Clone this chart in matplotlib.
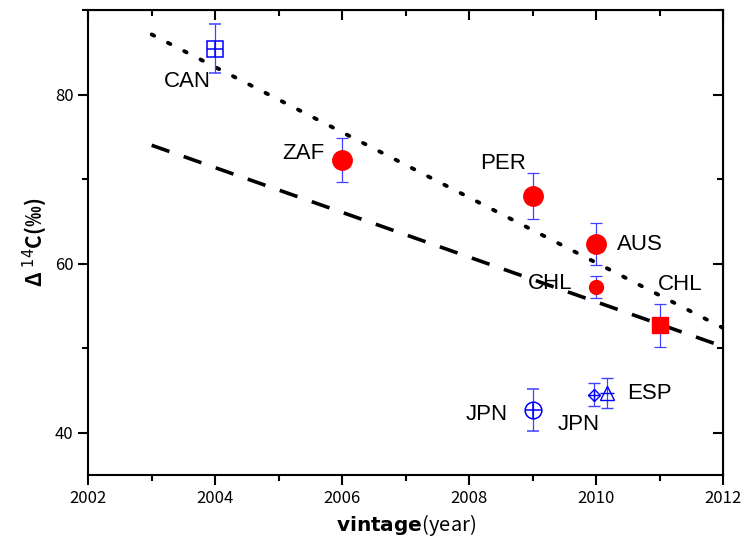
import matplotlib
matplotlib.use("Agg")
import matplotlib.pyplot as plt
import numpy as np
from matplotlib.ticker import MultipleLocator

plt.rcParams['font.family'] = ['Noto Sans CJK JP', 'DejaVu Sans']

# ---- data ----
# filled red points
red_x = [2006, 2009, 2010]
red_y = [72.2, 68.0, 62.3]
red_err = [2.6, 2.7, 2.5]

chl_x = [2010]
chl_y = [57.2]
chl_err = [1.3]

chl2_x = [2011]
chl2_y = [52.7]
chl2_err = [2.5]

# open blue points
can_x, can_y, can_err = 2004, 85.4, 2.9
jpn1_x, jpn1_y, jpn1_err = 2009, 42.7, 2.5
jpn2_x, jpn2_y, jpn2_err = 2009.97, 44.5, 1.35
esp_x, esp_y, esp_err = 2010.17, 44.7, 1.8

# trend lines (start/end)
line_x = [2003, 2012]
dotted_y = [87.1, 52.4]
dashed_y = [74.0, 50.2]

labels = ["CAN", "ZAF", "PER", "AUS", "CHL", "CHL", "JPN", "JPN", "ESP"]
label_x = [2003.56, 2005.39, 2008.54, 2010.68, 2009.28, 2011.32, 2008.27, 2009.72, 2010.84]
label_y = [81.5, 73.0, 71.9, 62.3, 57.7, 57.6, 42.2, 41.0, 44.6]

fig = plt.figure(figsize=(7.41, 5.5), dpi=100)
ax = fig.add_axes([0.119, 0.136, 0.857, 0.846])

ebc = "#4040ff"
ekw = dict(ecolor=ebc, elinewidth=0.9, capsize=4.5, capthick=0.9, linestyle="none", zorder=3)

ax.plot(line_x, dotted_y, color="black", linestyle=(0, (0.7, 4.0)), linewidth=2.8,
        dash_capstyle="round", zorder=2)
ax.plot(line_x, dashed_y, color="black", linestyle=(0, (5.2, 4.2)), linewidth=2.6, zorder=2)

ax.errorbar(red_x, red_y, yerr=red_err, fmt="o", color="red", markersize=14, **ekw)
ax.errorbar(chl_x, chl_y, yerr=chl_err, fmt="o", color="red", markersize=10, **ekw)
ax.errorbar(chl2_x, chl2_y, yerr=chl2_err, fmt="s", color="red", markersize=11, **ekw)

blue = "#0000ff"
ax.errorbar([can_x], [can_y], yerr=[can_err], fmt="s", mfc="none", mec=blue,
            mew=1.1, markersize=11, **ekw)
ax.plot([can_x], [can_y], "+", color=blue, markersize=11, mew=1.1, zorder=4)
ax.errorbar([jpn1_x], [jpn1_y], yerr=[jpn1_err], fmt="o", mfc="none", mec=blue,
            mew=1.1, markersize=12, **ekw)
ax.plot([jpn1_x], [jpn1_y], "+", color=blue, markersize=12, mew=1.1, zorder=4)
ax.errorbar([jpn2_x], [jpn2_y], yerr=[jpn2_err], fmt="D", mfc="none", mec=blue,
            mew=1.0, markersize=6, **ekw)
ax.plot([jpn2_x], [jpn2_y], "+", color=blue, markersize=8, mew=1.0, zorder=4)
ax.errorbar([esp_x], [esp_y], yerr=[esp_err], fmt="^", mfc="none", mec=blue,
            mew=1.0, markersize=10, **ekw)
ax.plot([esp_x], [esp_y], "_", color=blue, markersize=10, mew=1.0, zorder=4)

for t, x, y in zip(labels, label_x, label_y):
    ax.text(x, y, t, fontsize=16, ha="center", va="center", family=["Liberation Sans"])

ax.set_xlim(2002, 2012)
ax.set_ylim(35, 90)
ax.xaxis.set_major_locator(MultipleLocator(2))
ax.xaxis.set_minor_locator(MultipleLocator(1))
ax.yaxis.set_minor_locator(MultipleLocator(10))
ax.set_yticks([40, 60, 80])

ax.tick_params(which="both", direction="out", top=False, right=False, width=1.5)
ax.tick_params(which="major", length=7, labelsize=12)
ax.tick_params(which="minor", length=4)
for s in ax.spines.values():
    s.set_linewidth(1.5)

# mirrored inward ticks on top and right
axt = ax.secondary_xaxis("top")
axt.xaxis.set_major_locator(MultipleLocator(2))
axt.xaxis.set_minor_locator(MultipleLocator(1))
axt.tick_params(which="both", direction="in", labeltop=False, width=1.5)
axt.tick_params(which="major", length=7)
axt.tick_params(which="minor", length=4)
axr = ax.secondary_yaxis("right")
axr.set_yticks([40, 60, 80])
axr.yaxis.set_minor_locator(MultipleLocator(10))
axr.tick_params(which="both", direction="in", labelright=False, width=1.5)
axr.tick_params(which="major", length=7)
axr.tick_params(which="minor", length=4)

ax.set_xlabel(r"$\mathbf{vintage}$(year)", fontsize=14.5)
ax.set_ylabel("Δ $^{14}$C(‰)", fontsize=15, fontweight="bold")

fig.savefig("out.png", dpi=100)
